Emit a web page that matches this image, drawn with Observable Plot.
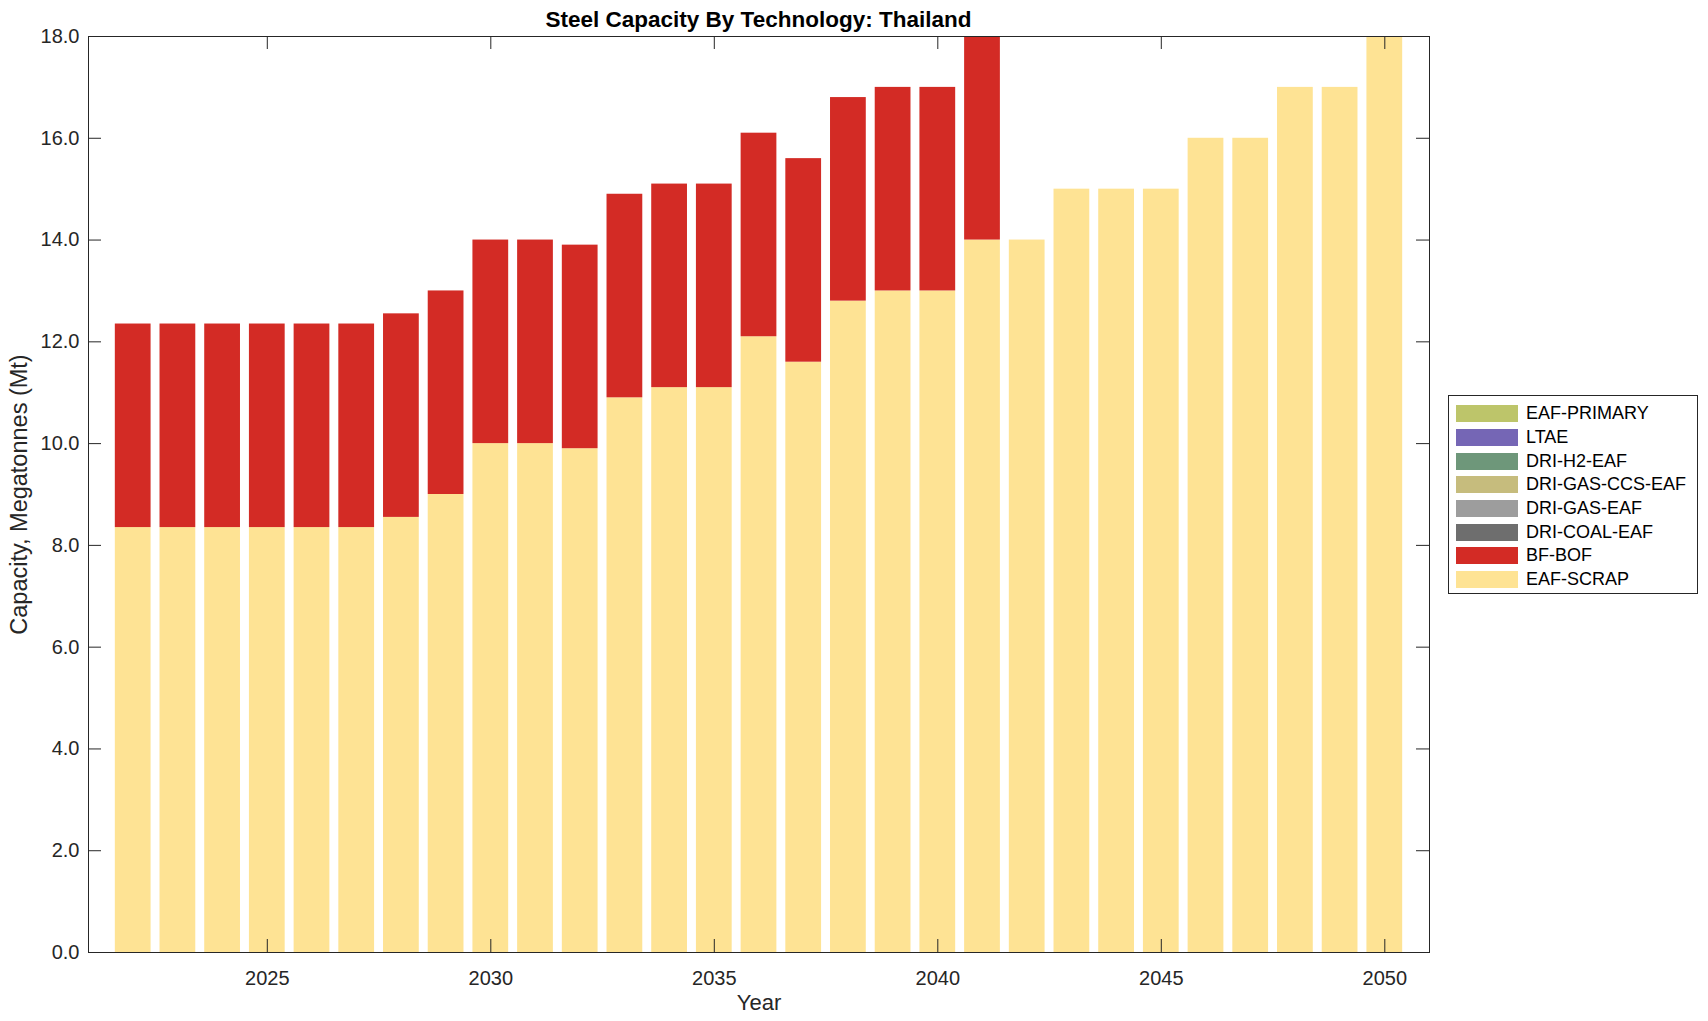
<!DOCTYPE html>
<html><head><meta charset="utf-8">
<script src="https://cdn.jsdelivr.net/npm/d3@7"></script>
<script src="https://cdn.jsdelivr.net/npm/@observablehq/plot@0.6"></script>
<style>
body{margin:0;background:#fff;font-family:"Liberation Sans",Arial,Helvetica,sans-serif;}
#wrap{position:relative;width:1708px;height:1021px;}
#title{position:absolute;left:88px;width:1341px;top:9px;line-height:22.5px;text-align:center;font-weight:bold;font-size:22.5px;color:#000;}
#legend{position:absolute;left:1448px;top:395px;width:250px;height:199px;border:1px solid #262626;box-sizing:border-box;background:#fff;padding-top:6px;}
.row{height:23.7px;display:flex;align-items:center;font-size:18px;color:#000;}
.sw{width:62px;height:17px;margin-left:7px;margin-right:8px;flex:none;}
</style></head>
<body>
<div id="wrap">
<div id="chart"></div>
<div id="title">Steel Capacity By Technology: Thailand</div>
<div id="legend"></div>
</div>
<script>
const years = [2022,2023,2024,2025,2026,2027,2028,2029,2030,2031,2032,2033,2034,2035,2036,2037,2038,2039,2040,2041,2042,2043,2044,2045,2046,2047,2048,2049,2050];
const eafScrap = [8.35,8.35,8.35,8.35,8.35,8.35,8.55,9.0,10,10,9.9,10.9,11.1,11.1,12.1,11.6,12.8,13,13,14,14,15,15,15,16,16,17,17,18];
const bfBof = [4,4,4,4,4,4,4,4,4,4,4,4,4,4,4,4,4,4,4,4,0,0,0,0,0,0,0,0,0];
const legendTechs = ["EAF-PRIMARY","LTAE","DRI-H2-EAF","DRI-GAS-CCS-EAF","DRI-GAS-EAF","DRI-COAL-EAF","BF-BOF","EAF-SCRAP"];
const legendColors = ["#bdc56a","#7566b5","#6e977a","#c6bc7d","#9d9d9d","#6e6e6e","#d32b25","#fee394"];
const xTicks = [2025,2030,2035,2040,2045,2050];
const yTicks = [0,2,4,6,8,10,12,14,16,18];

const rows = [];
years.forEach((yr,i)=>{
  rows.push({year:yr, tech:"EAF-SCRAP", value:eafScrap[i]});
  rows.push({year:yr, tech:"BF-BOF", value:bfBof[i]});
});

const W=1708, H=1021, mL=88, mR=279, mT=36, mB=69;
const pw=W-mL-mR, ph=H-mT-mB, tl=13;
const ink="#262626";

const chart = Plot.plot({
  width:W, height:H, marginLeft:mL, marginRight:mR, marginTop:mT, marginBottom:mB,
  style:{fontFamily:'"Liberation Sans",Arial,sans-serif', fontSize:"20px", color:ink, background:"white", overflow:"visible"},
  x:{domain:[2021,2051]},
  y:{domain:[0,18]},
  color:{domain:legendTechs, range:legendColors},
  marks:[
    Plot.rectY(rows, {x1:d=>d.year-0.4, x2:d=>d.year+0.4, y:"value", fill:"tech"}),
    Plot.axisX({ticks:xTicks, tickSize:0, tickPadding:18, tickFormat:d=>String(d), label:"Year", labelAnchor:"center", labelArrow:"none", labelOffset:57, fontSize:20}),
    Plot.axisY({ticks:yTicks, tickSize:0, tickPadding:9, tickFormat:d3.format(".1f"), label:"Capacity, Megatonnes (Mt)", labelAnchor:"center", labelArrow:"none", labelOffset:78, fontSize:20}),
    Plot.tickY(yTicks, {y:d=>d, insetRight:pw-tl, stroke:ink}),
    Plot.tickY(yTicks, {y:d=>d, insetLeft:pw-tl, stroke:ink}),
    Plot.tickX(xTicks, {x:d=>d, insetTop:ph-tl, stroke:ink}),
    Plot.tickX(xTicks, {x:d=>d, insetBottom:ph-tl, stroke:ink}),
    Plot.frame({stroke:ink})
  ]
});
document.getElementById("chart").appendChild(chart);
chart.querySelectorAll('g[aria-label="x-axis label"] text').forEach(t=>t.setAttribute("font-size","22"));
chart.querySelectorAll('g[aria-label="y-axis label"] text').forEach(t=>t.setAttribute("font-size","23.5"));

const lg = document.getElementById("legend");
legendTechs.forEach((t,i)=>{
  const r=document.createElement("div"); r.className="row";
  const s=document.createElement("div"); s.className="sw"; s.style.background=legendColors[i];
  const l=document.createElement("span"); l.textContent=t;
  r.appendChild(s); r.appendChild(l); lg.appendChild(r);
});
</script>
</body></html>
